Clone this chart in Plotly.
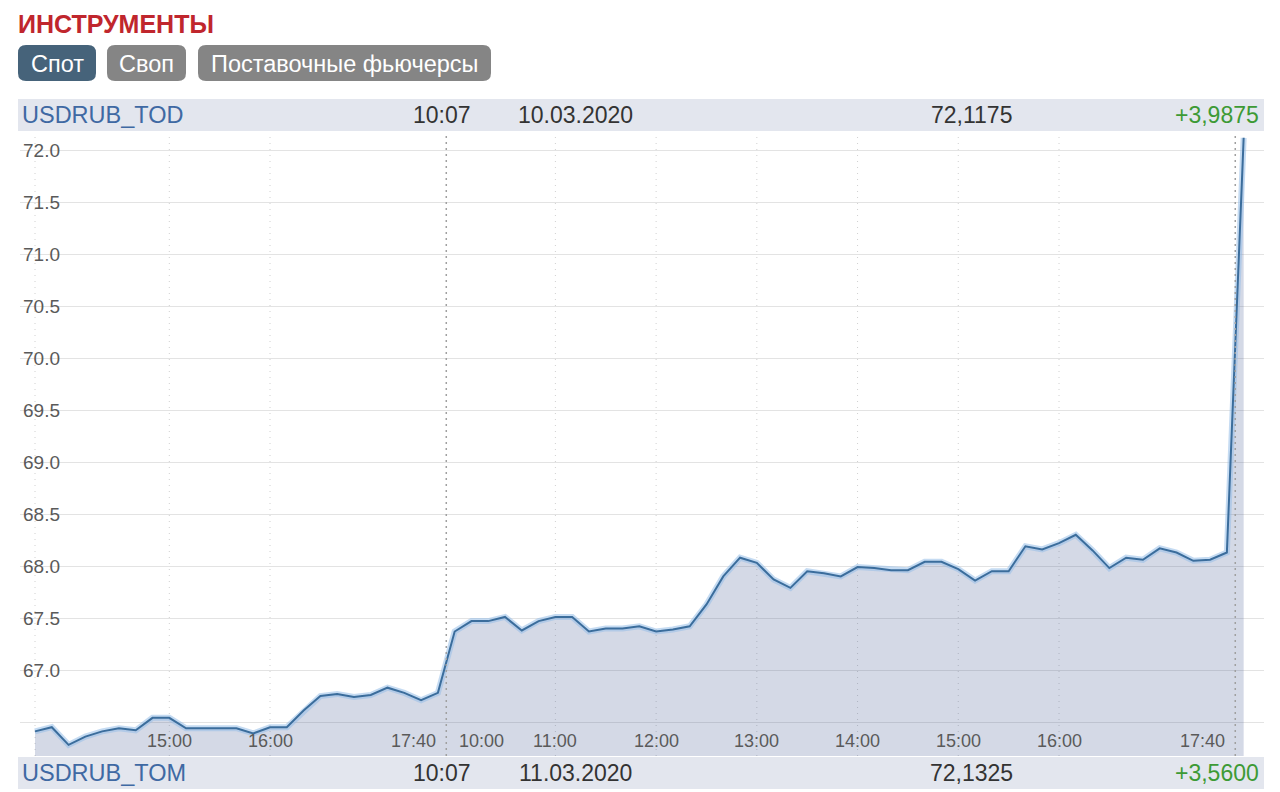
import plotly.graph_objects as go

# ---------------- data ----------------
# 10-minute bars: end of session 05.03, full session 06.03, open of 10.03
times_a = ["13:40", "13:50", "14:00", "14:10", "14:20", "14:30", "14:40", "14:50",
           "15:00", "15:10", "15:20", "15:30", "15:40", "15:50", "16:00", "16:10",
           "16:20", "16:30", "16:40", "16:50", "17:00", "17:10", "17:20", "17:30", "17:40"]
values_a = [66.41, 66.45, 66.28, 66.36, 66.41, 66.44, 66.42, 66.54, 66.54, 66.44,
            66.44, 66.44, 66.44, 66.39, 66.45, 66.45, 66.61, 66.75, 66.77, 66.74,
            66.76, 66.83, 66.78, 66.71, 66.78]

times_b = ["10:00", "10:10", "10:20", "10:30", "10:40", "10:50",
           "11:00", "11:10", "11:20", "11:30", "11:40", "11:50",
           "12:00", "12:10", "12:20", "12:30", "12:40", "12:50",
           "13:00", "13:10", "13:20", "13:30", "13:40", "13:50",
           "14:00", "14:10", "14:20", "14:30", "14:40", "14:50",
           "15:00", "15:10", "15:20", "15:30", "15:40", "15:50",
           "16:00", "16:10", "16:20", "16:30", "16:40", "16:50",
           "17:00", "17:10", "17:20", "17:30", "17:40"]
values_b = [67.37, 67.47, 67.47, 67.51, 67.38, 67.47,
            67.51, 67.51, 67.37, 67.40, 67.40, 67.42,
            67.37, 67.39, 67.42, 67.63, 67.90, 68.08,
            68.03, 67.87, 67.79, 67.95, 67.93, 67.90,
            67.99, 67.98, 67.96, 67.96, 68.04, 68.04,
            67.97, 67.86, 67.95, 67.95, 68.19, 68.16,
            68.22, 68.30, 68.15, 67.98, 68.08, 68.06,
            68.17, 68.13, 68.05, 68.06, 68.13]

times_c = ["10:00"]
values_c = [72.1175]

dates = ["05.03", "06.03", "10.03"]

# axis labels
y_ticks = [66.5, 67.0, 67.5, 68.0, 68.5, 69.0, 69.5, 70.0, 70.5, 71.0, 71.5, 72.0]
y_ticktext = ["", "67.0", "67.5", "68.0", "68.5", "69.0", "69.5", "70.0", "70.5", "71.0", "71.5", "72.0"]
x_tick_labels = [("05.03", "15:00"), ("05.03", "16:00"), ("05.03", "17:40"),
                 ("06.03", "10:00"), ("06.03", "11:00"), ("06.03", "12:00"),
                 ("06.03", "13:00"), ("06.03", "14:00"), ("06.03", "15:00"),
                 ("06.03", "16:00"), ("06.03", "17:40")]

# header rows
rows = [
    {"name": "USDRUB_TOD", "time": "10:07", "date": "10.03.2020", "price": "72,1175", "chg": "+3,9875"},
    {"name": "USDRUB_TOM", "time": "10:07", "date": "11.03.2020", "price": "72,1325", "chg": "+3,5600"},
]
title = "ИНСТРУМЕНТЫ"
buttons = ["Спот", "Своп", "Поставочные фьючерсы"]

# ---------------- build ----------------
cats = ([f"{dates[0]} {t}" for t in times_a] + [f"{dates[1]} {t}" for t in times_b]
        + [f"{dates[2]} {t}" for t in times_c])
vals = values_a + values_b + values_c

W, H = 1280, 792
FONT = "Liberation Sans, Arial, Helvetica, sans-serif"


def X(px):
    return px / W


def Y(py):
    return 1 - py / H


fig = go.Figure()
fig.add_trace(go.Scatter(x=cats, y=vals, mode="lines", line=dict(width=0, color="rgba(0,0,0,0)"),
                         fill="tozeroy", fillcolor="rgba(60,80,140,0.22)", hoverinfo="skip",
                         showlegend=False))
fig.add_trace(go.Scatter(x=cats, y=vals, mode="lines",
                         line=dict(width=6, color="rgba(150,190,232,0.55)"),
                         hoverinfo="skip", showlegend=False))
fig.add_trace(go.Scatter(x=cats, y=vals, mode="lines",
                         line=dict(width=2, color="#3b6d9c"), showlegend=False))

shapes = []
annotations = []

# vertical dotted gridlines
grid_cats = [cats[0]] + [f"{d} {t}" for d, t in x_tick_labels if t not in ("10:00", "17:40")]
for c in grid_cats:
    shapes.append(dict(type="line", xref="x", yref="paper", x0=c, x1=c,
                       y0=Y(756), y1=Y(132), layer="below",
                       line=dict(color="#d0d0d0", width=1, dash="1px,5px")))
# session separators
n_a, n_b = len(times_a), len(times_b)
for sep in (n_a - 0.5, n_a + n_b - 0.5):
    shapes.append(dict(type="line", xref="x", yref="paper", x0=sep, x1=sep,
                       y0=Y(756), y1=Y(132), layer="above",
                       line=dict(color="#a0a0a0", width=1.5, dash="2px,4px")))

# x tick labels (inside plot, bottom)
for i, (d, t) in enumerate(x_tick_labels):
    c = f"{d} {t}"
    if t == "17:40":
        anchor, shift = "right", 0
    elif t == "10:00":
        anchor, shift = "left", 2
    else:
        anchor, shift = "center", 0
    annotations.append(dict(x=c, y=Y(741), xref="x", yref="paper", text=t, showarrow=False,
                            xanchor=anchor, yanchor="middle", xshift=shift,
                            font=dict(family=FONT, size=18, color="#5a5a5a")))

# header rows
for row, (top, bot) in zip(rows, [(99, 131), (757, 789)]):
    shapes.append(dict(type="rect", xref="paper", yref="paper", x0=X(18), x1=X(1264),
                       y0=Y(bot), y1=Y(top), fillcolor="#e3e6ee", line=dict(width=0), layer="below"))
    yc = Y((top + bot) / 2)
    annotations += [
        dict(x=X(20), y=yc, text=row["name"], xanchor="left",
             font=dict(family=FONT, size=23.5, color="#3f69a3")),
        dict(x=X(442), y=yc, text=row["time"], xanchor="center",
             font=dict(family=FONT, size=23, color="#333333")),
        dict(x=X(575), y=yc, text=row["date"], xanchor="center",
             font=dict(family=FONT, size=23, color="#333333")),
        dict(x=X(971), y=yc, text=row["price"], xanchor="center",
             font=dict(family=FONT, size=23, color="#333333")),
        dict(x=X(1261), y=yc, text=row["chg"], xanchor="right",
             font=dict(family=FONT, size=23, color="#3d9a35")),
    ]
for a in annotations[-10:]:
    a.update(xref="paper", yref="paper", showarrow=False, yanchor="middle")

# title
annotations.append(dict(x=X(16), y=Y(24), xref="paper", yref="paper", text=f"<b>{title}</b>",
                        showarrow=False, xanchor="left", yanchor="middle",
                        font=dict(family=FONT, size=25, color="#c0262d")))


# buttons
def rounded(x0, y0, x1, y1, r):
    pts = [("M", x0 + r, y0), ("L", x1 - r, y0), ("Q", x1, y0, x1, y0 + r), ("L", x1, y1 - r),
           ("Q", x1, y1, x1 - r, y1), ("L", x0 + r, y1), ("Q", x0, y1, x0, y1 - r),
           ("L", x0, y0 + r), ("Q", x0, y0, x0 + r, y0)]
    out = []
    for p in pts:
        cmd, coords = p[0], p[1:]
        s = " ".join(f"{X(coords[k]):.5f},{Y(coords[k + 1]):.5f}" for k in range(0, len(coords), 2))
        out.append(f"{cmd}{s}")
    return " ".join(out) + " Z"


btn_boxes = [(18, 96), (107, 186), (198, 491)]
btn_colors = ["#46637a", "#858585", "#858585"]
for label, (bx0, bx1), col in zip(buttons, btn_boxes, btn_colors):
    shapes.append(dict(type="path", xref="paper", yref="paper", path=rounded(bx0, 45, bx1, 81, 8),
                       fillcolor=col, line=dict(width=0), layer="below"))
    annotations.append(dict(x=X((bx0 + bx1) / 2), y=Y(63.5), xref="paper", yref="paper", text=label,
                            showarrow=False, xanchor="center", yanchor="middle",
                            font=dict(family=FONT, size=23.5, color="#ffffff")))

px_per_unit = (722 - 150) / (72.0 - 66.5)
y_top = 72.0 + (150 - 132) / px_per_unit
y_bot = 66.5 - (756 - 722) / px_per_unit
px_per_bar = (1059 - 35) / 61
x_left = -(35 - 20) / px_per_bar
x_right = (1264 - 35) / px_per_bar

fig.update_layout(
    width=W, height=H, margin=dict(l=0, r=0, t=0, b=0),
    paper_bgcolor="white", plot_bgcolor="white",
    shapes=shapes, annotations=annotations, showlegend=False,
    font=dict(family=FONT),
    xaxis=dict(type="category", domain=[X(20), X(1264)], range=[x_left, x_right],
               showgrid=False, zeroline=False, showticklabels=False, showline=False, ticks=""),
    yaxis=dict(domain=[Y(756), Y(132)], range=[y_bot, y_top], tickvals=y_ticks, ticktext=y_ticktext,
               ticklabelposition="inside", showgrid=True, gridcolor="#e3e3e3", gridwidth=1,
               zeroline=False, showline=False, ticks="",
               tickfont=dict(family=FONT, size=19, color="#5a5a5a")),
)

fig.write_html("out.html", config={"displayModeBar": False},
               post_script="document.body.style.margin='0';document.body.style.overflow='hidden';")
